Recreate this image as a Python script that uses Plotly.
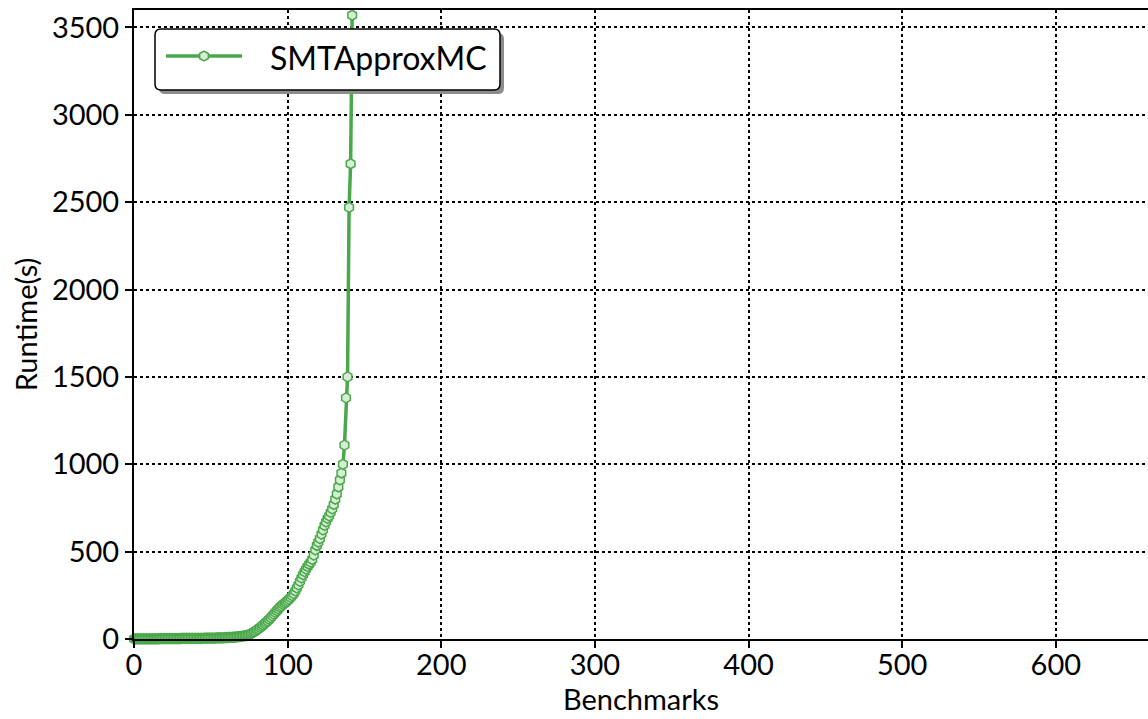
import math
import plotly.graph_objects as go

benchmarks = list(range(0, 143))
runtimes = [
    0.4, 0.4, 0.5, 0.5, 0.6, 0.6, 0.7, 0.8, 0.8, 0.9, 1.0, 1.0, 1.1, 1.2, 1.2, 1.3, 1.4, 1.5, 1.6,
    1.7, 1.8, 1.9, 2.0, 2.1, 2.2, 2.3, 2.4, 2.5, 2.6, 2.7, 2.8, 2.9, 3.0, 3.1, 3.2, 3.3, 3.4, 3.5, 3.6,
    3.7, 3.8, 3.9, 4.0, 4.1, 4.2, 4.3, 4.4, 4.5, 4.6, 4.8, 5.0, 5.2, 5.4, 5.6, 5.8, 6.0, 6.3, 6.6, 7.0,
    7.4, 7.8, 8.2, 8.7, 9.2, 9.8, 10.5, 11.2, 12, 13, 14, 15, 16.5, 18, 20, 22, 25, 30, 35, 40,
    45, 52, 58, 65, 72, 80, 88, 96, 104, 113, 122, 132, 142, 152, 162, 172, 182, 190, 198, 205,
    212, 220, 228, 238, 248, 260, 275, 292, 310, 330, 350, 368, 385, 400, 415, 428, 440, 455, 480, 510,
    535, 555, 575, 600, 625, 650, 670, 690, 705, 725, 745, 770, 800, 830, 870, 910, 950, 1000, 1110, 1380,
    1500, 2470, 2720, 3570,
]
series_name = "SMTApproxMC"
x_ticks = [0, 100, 200, 300, 400, 500, 600]
y_ticks = [0, 500, 1000, 1500, 2000, 2500, 3000, 3500]

FONT = "Lato"
GREEN = "#4aa84a"
MFILL = "#d6edd6"

# plot area in pixels (layout only)
L, R, T, B = 134, 1148, 10, 639


def px(x):
    return (x - L) / (R - L)


def py(y):
    return (B - y) / (B - T)


def rounded_rect(x0, y0, x1, y1, r):
    pts = [
        f"M {px(x0 + r)},{py(y0)}",
        f"L {px(x1 - r)},{py(y0)}",
        f"Q {px(x1)},{py(y0)} {px(x1)},{py(y0 + r)}",
        f"L {px(x1)},{py(y1 - r)}",
        f"Q {px(x1)},{py(y1)} {px(x1 - r)},{py(y1)}",
        f"L {px(x0 + r)},{py(y1)}",
        f"Q {px(x0)},{py(y1)} {px(x0)},{py(y1 - r)}",
        f"L {px(x0)},{py(y0 + r)}",
        f"Q {px(x0)},{py(y0)} {px(x0 + r)},{py(y0)}",
        "Z",
    ]
    return " ".join(pts)


def hexagon(cx, cy, r):
    pts = []
    for k in range(6):
        a = math.radians(60 * k + 30)
        pts.append((cx + r * math.cos(a), cy + r * math.sin(a)))
    s = f"M {px(pts[0][0])},{py(pts[0][1])} "
    s += " ".join(f"L {px(a)},{py(b)}" for a, b in pts[1:])
    return s + " Z"


fig = go.Figure()
fig.add_trace(go.Scatter(
    x=benchmarks, y=runtimes, mode="lines+markers", name=series_name,
    line=dict(color=GREEN, width=3.5),
    marker=dict(symbol="hexagon", size=10, color=MFILL,
                line=dict(color=GREEN, width=1.5)),
    cliponaxis=False, showlegend=False,
))

axis_common = dict(
    showline=True, linecolor="black", linewidth=2,
    ticks="outside", ticklen=7, tickwidth=2, tickcolor="black",
    showgrid=True, gridcolor="black", gridwidth=1.5, griddash="dot",
    zeroline=False, tickfont=dict(family=FONT, size=29, color="black"),
)

fig.update_xaxes(
    range=[0, 660], tickvals=x_ticks, mirror=True, ticklabelstandoff=-8,
    title=dict(text="Benchmarks", font=dict(family=FONT, size=29, color="black"), standoff=2),
    **axis_common,
)
fig.update_yaxes(
    range=[0, 3600], tickvals=y_ticks,
    title=dict(text="Runtime(s)", font=dict(family=FONT, size=29, color="black"), standoff=6),
    **axis_common,
)

shapes = [
    dict(type="path", xref="paper", yref="paper", layer="above",
         path=rounded_rect(159, 33, 504, 94, 6),
         fillcolor="#8c8c8c", line=dict(width=0)),
    dict(type="path", xref="paper", yref="paper", layer="above",
         path=rounded_rect(155, 29, 500, 90, 6),
         fillcolor="white", line=dict(color="black", width=1.5)),
    dict(type="line", xref="paper", yref="paper", layer="above",
         x0=px(166), x1=px(242), y0=py(56), y1=py(56),
         line=dict(color=GREEN, width=3.5)),
    dict(type="path", xref="paper", yref="paper", layer="above",
         path=hexagon(204, 56, 5), fillcolor=MFILL, line=dict(color=GREEN, width=1.5)),
]

fig.update_layout(
    width=1148, height=719,
    margin=dict(l=L, r=1148 - R, t=T, b=719 - B),
    plot_bgcolor="white", paper_bgcolor="white",
    font=dict(family=FONT, color="black"),
    showlegend=False,
    shapes=shapes,
    annotations=[dict(
        text=series_name, xref="paper", yref="paper",
        x=px(268), y=py(57), xanchor="left", yanchor="middle",
        showarrow=False, font=dict(family=FONT, size=32, color="black"),
    )],
)

fig.write_html("out.html")
